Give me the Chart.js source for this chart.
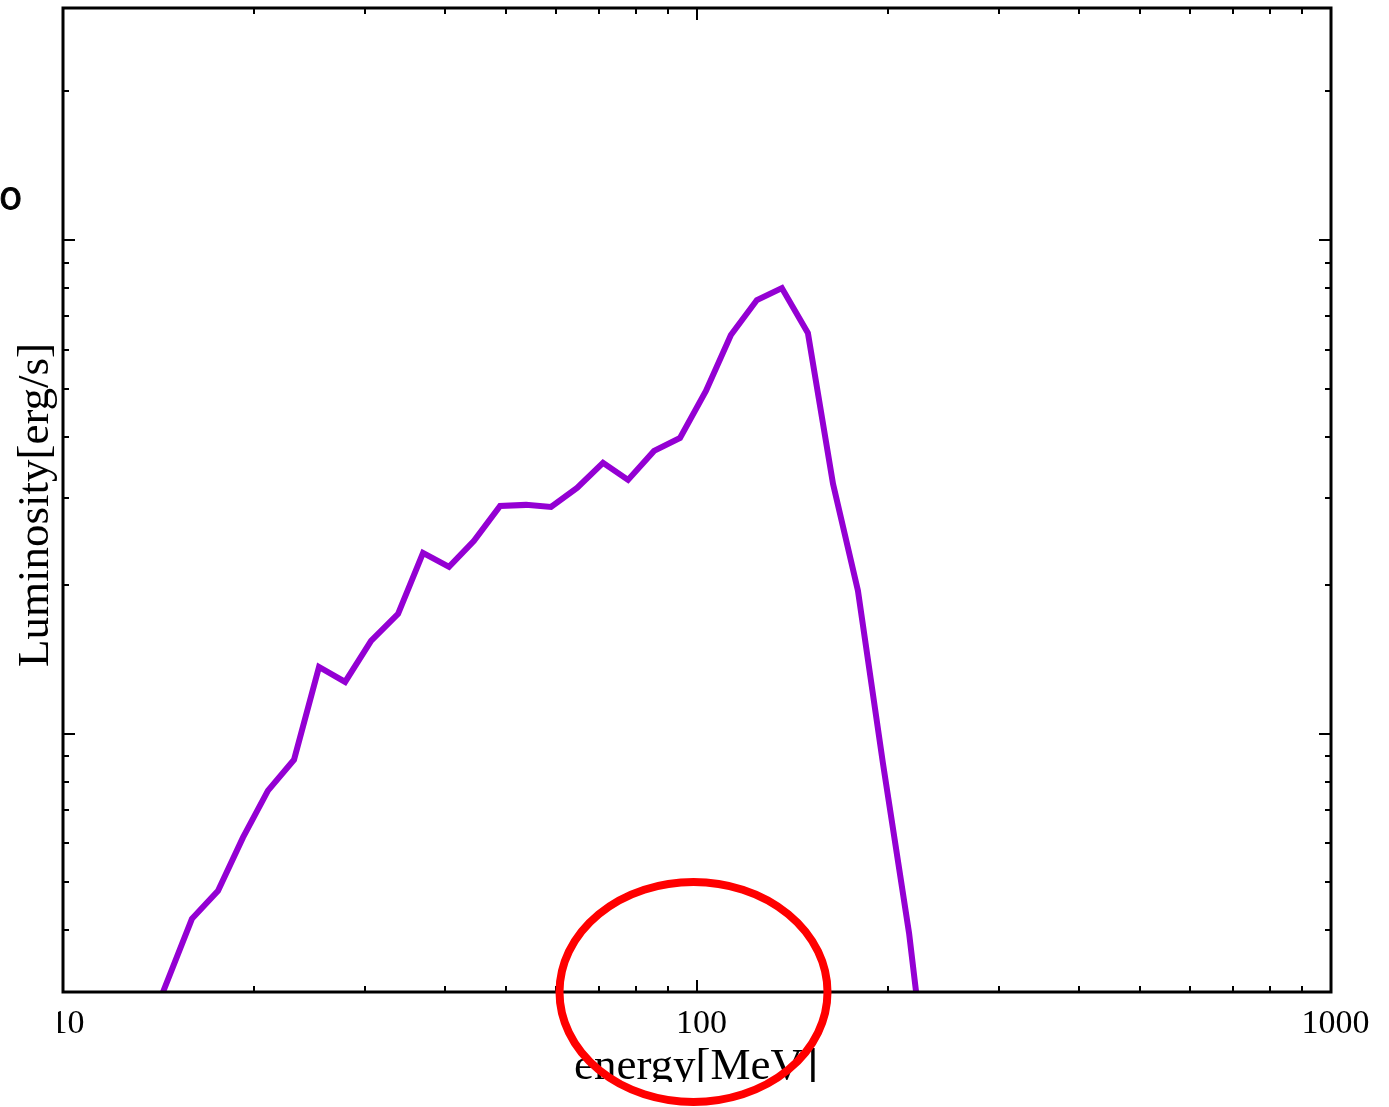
<!DOCTYPE html>
<html>
<head>
<meta charset="utf-8">
<script src="https://cdn.jsdelivr.net/npm/chart.js@4/dist/chart.umd.min.js"></script>
<style>
  html, body { margin: 0; padding: 0; background: #ffffff; }
  canvas { display: block; }
</style>
</head>
<body>
<canvas id="spectrum" width="1389" height="1107"></canvas>
<script>
// Photon energy of each spectral bin, MeV
const energyMeV = [
  14.38, 15.97, 17.56, 19.22, 21.05, 23.14, 25.34, 27.86, 30.61, 33.77,
  36.97, 40.63, 44.49, 48.91, 53.75, 58.85, 64.68, 71.08, 77.84, 85.55,
  94.02, 103.3, 113.1, 124.3, 136.1, 149.6, 163.9, 179.4, 196.5, 216.0,
  221.6
];

// Luminosity per bin, relative to the lower decade line of the y axis
const luminosity = [
  0.300, 0.422, 0.481, 0.616, 0.767, 0.886, 1.366, 1.274, 1.543, 1.750,
  2.325, 2.178, 2.459, 2.894, 2.908, 2.881, 3.148, 3.537, 3.267, 3.740,
  3.974, 4.947, 6.424, 7.557, 7.993, 6.483, 3.207, 1.950, 0.870, 0.395,
  0.300
];

// Axis ranges and tick labels
const xRange = [10, 1000];
const yRange = [0.3, 29.5];
const xTickValues = [10, 100, 1000];
const xTickLabels = ['10', '100', '1000'];
const xTitle = 'energy[MeV]';
const yTitle = 'Luminosity[erg/s]';
const strayMark = 'o';

const SERIF = '"Liberation Serif", "Times New Roman", serif';

// Boxed frame with inward major/minor ticks on all four sides
const framePlugin = {
  id: 'frame',
  afterDatasetsDraw(chart) {
    const { ctx, chartArea: a, scales: { x, y } } = chart;
    ctx.save();
    ctx.strokeStyle = '#000000';
    ctx.lineCap = 'butt';

    const xMinor = [], yMinor = [];
    for (const d of [10, 100]) for (let m = 2; m <= 9; m++) xMinor.push(m * d);
    for (const d of [0.1, 1, 10]) for (let m = 2; m <= 9; m++) {
      const v = m * d;
      if (v > yRange[0] + 1e-9 && v < yRange[1]) yMinor.push(v);
    }
    const xMajor = [100];
    const yMajor = [1, 10];

    ctx.lineWidth = 2;
    ctx.beginPath();
    const xTick = (v, len) => {
      const px = Math.round(x.getPixelForValue(v));
      ctx.moveTo(px, a.bottom); ctx.lineTo(px, a.bottom - len);
      ctx.moveTo(px, a.top); ctx.lineTo(px, a.top + len);
    };
    const yTick = (v, len) => {
      const py = Math.round(y.getPixelForValue(v));
      ctx.moveTo(a.left, py); ctx.lineTo(a.left + len, py);
      ctx.moveTo(a.right, py); ctx.lineTo(a.right - len, py);
    };
    xMinor.forEach(v => xTick(v, 6));
    xMajor.forEach(v => xTick(v, 12));
    yMinor.forEach(v => yTick(v, 6));
    yMajor.forEach(v => yTick(v, 12));
    ctx.stroke();

    ctx.lineWidth = 3;
    ctx.strokeRect(a.left, a.top, a.right - a.left, a.bottom - a.top);
    ctx.restore();
  }
};

// Tick labels, axis titles and the red ring around the 100 MeV mark
const textPlugin = {
  id: 'texts',
  afterDraw(chart) {
    const { ctx, chartArea: a, scales: { x, y } } = chart;
    ctx.save();
    ctx.fillStyle = '#000000';

    // x tick labels
    ctx.save();
    ctx.beginPath();
    ctx.rect(58, a.bottom, chart.width - 58, 60);
    ctx.clip();
    ctx.font = '34px ' + SERIF;
    ctx.textAlign = 'center';
    ctx.textBaseline = 'alphabetic';
    xTickValues.forEach((v, i) => {
      ctx.fillText(xTickLabels[i], x.getPixelForValue(v) + 4.5, a.bottom + 41);
    });
    ctx.restore();

    // x title, cut off along its lower edge
    ctx.save();
    ctx.beginPath();
    ctx.rect(0, a.bottom + 40, chart.width, 1082 - (a.bottom + 40));
    ctx.clip();
    ctx.font = '45px ' + SERIF;
    ctx.textAlign = 'center';
    ctx.fillText(xTitle, (a.left + a.right) / 2 - 1, 1079);
    ctx.restore();

    // y title
    ctx.save();
    ctx.font = '45px ' + SERIF;
    ctx.textAlign = 'center';
    ctx.translate(48, (a.top + a.bottom) / 2 + 5);
    ctx.rotate(-Math.PI / 2);
    ctx.fillText(yTitle, 0, 0);
    ctx.restore();

    // small mark left of the axis
    ctx.save();
    ctx.font = '38px "DejaVu Sans", sans-serif';
    ctx.textAlign = 'center';
    ctx.textBaseline = 'alphabetic';
    ctx.strokeStyle = '#000000';
    ctx.lineWidth = 0.8;
    const markY = y.getPixelForValue(10) - 31;
    ctx.fillText(strayMark, 10.5, markY);
    ctx.strokeText(strayMark, 10.5, markY);
    ctx.restore();

    // red ring
    ctx.beginPath();
    ctx.ellipse(x.getPixelForValue(100) - 3.5, a.bottom, 134, 110, 0, 0, Math.PI * 2);
    ctx.strokeStyle = '#ff0000';
    ctx.lineWidth = 8;
    ctx.stroke();

    ctx.restore();
  }
};

new Chart(document.getElementById('spectrum'), {
  type: 'line',
  data: {
    datasets: [{
      data: energyMeV.map((e, i) => ({ x: e, y: luminosity[i] })),
      borderColor: '#9400d3',
      borderWidth: 6,
      borderJoinStyle: 'miter',
      pointRadius: 0,
      tension: 0,
      fill: false,
      clip: 0
    }]
  },
  options: {
    responsive: false,
    animation: false,
    devicePixelRatio: 1,
    layout: { padding: { left: 63, right: 58, top: 8, bottom: 115 } },
    plugins: { legend: { display: false }, tooltip: { enabled: false } },
    scales: {
      x: { type: 'logarithmic', min: xRange[0], max: xRange[1], display: false },
      y: { type: 'logarithmic', min: yRange[0], max: yRange[1], display: false }
    }
  },
  plugins: [framePlugin, textPlugin]
});
</script>
</body>
</html>
